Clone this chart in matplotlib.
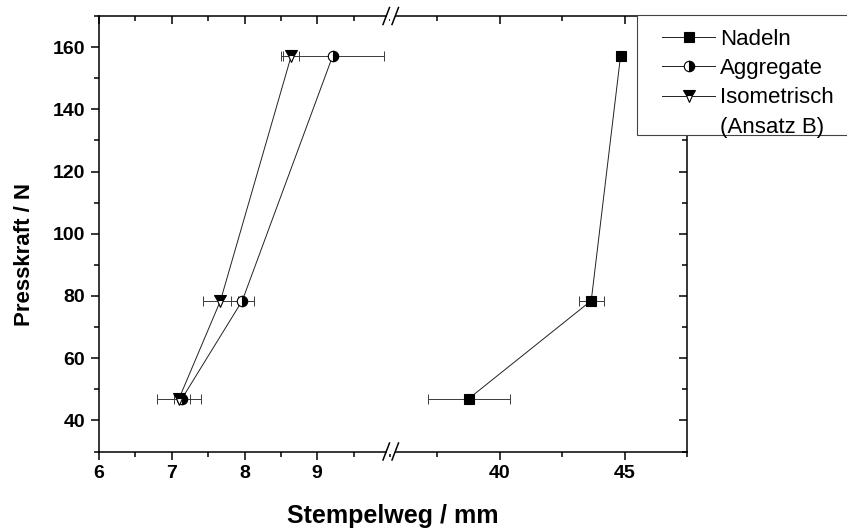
import matplotlib
matplotlib.use("Agg")
import numpy as np
import matplotlib.pyplot as plt
from matplotlib.lines import Line2D
from matplotlib.patches import Rectangle
from matplotlib.ticker import MultipleLocator, FixedLocator

plt.rcParams['font.family'] = ['Liberation Sans', 'DejaVu Sans']

# Measured values: press force (N) vs. punch travel (mm)
presskraft = [47.0, 78.5, 157.0]

nadeln_weg = [38.77, 43.67, 44.84]
nadeln_err = [1.65, 0.50, 0.10]

aggregate_weg = [7.14, 7.97, 9.21]
aggregate_err = [0.115, 0.16, 0.705]

iso_weg = [7.10, 7.67, 8.64]
iso_err = [0.30, 0.24, 0.11]

left_xticks = [6, 7, 8, 9]
right_xticks = [40, 45]
yticks = [40, 60, 80, 100, 120, 140, 160]

W, H = 847, 531
fig = plt.figure(figsize=(W / 100, H / 100), dpi=100)


def fx(px):
    return px / W


def fy(py):
    return 1 - py / H


x0, xb, x1 = 99, 390, 687
ytop, ybot = 16, 451.5
rect_h = (ybot - ytop) / H
axL = fig.add_axes([fx(x0), fy(ybot), fx(xb - x0), rect_h])
axR = fig.add_axes([fx(xb), fy(ybot), fx(x1 - xb), rect_h])

LW = 1.1
MAJ, MIN = 6, 3.5
XLIMS = ((6, 10), (35.62, 47.5))
XMAJ = (left_xticks, right_xticks)
XMIN = (0.5, 2.5)

for ax, lims, majors, mstep in zip((axL, axR), XLIMS, XMAJ, XMIN):
    ax.set_xlim(*lims)
    ax.set_ylim(30, 170)
    for s in ax.spines.values():
        s.set_linewidth(LW)
    ax.xaxis.set_major_locator(FixedLocator(majors))
    ax.xaxis.set_minor_locator(MultipleLocator(mstep))
    ax.yaxis.set_major_locator(FixedLocator(yticks))
    ax.yaxis.set_minor_locator(MultipleLocator(10))
    ax.tick_params(axis='x', which='both', bottom=True, top=False, direction='out', width=LW)
    ax.tick_params(axis='x', which='major', length=MAJ, pad=4, labelsize=14)
    ax.tick_params(axis='x', which='minor', length=MIN)
    # mirrored inward ticks along the top edge
    tick_h = {True: MAJ * 1.39 / (ybot - ytop), False: MIN * 1.39 / (ybot - ytop)}
    minors = np.arange(lims[0] - lims[0] % mstep, lims[1] + 1e-9, mstep)
    for t in minors:
        if t < lims[0] - 1e-9:
            continue
        is_major = any(abs(t - m) < 1e-9 for m in majors)
        ax.plot([t, t], [1, 1 - tick_h[is_major]], transform=ax.get_xaxis_transform(),
                color='black', lw=LW, clip_on=False, solid_capstyle='butt', zorder=4)

axL.spines['right'].set_visible(False)
axR.spines['left'].set_visible(False)

# y axis: outward ticks on the left, inward ticks on the right
axL.tick_params(axis='y', which='both', left=True, right=False, direction='out', width=LW)
axL.tick_params(axis='y', which='major', length=MAJ, pad=4, labelsize=14)
axL.tick_params(axis='y', which='minor', length=MIN)
axR.tick_params(axis='y', which='both', left=False, right=True, labelleft=False,
                labelright=False, direction='in', width=LW)
axR.tick_params(axis='y', which='major', length=MAJ)
axR.tick_params(axis='y', which='minor', length=MIN)

for ax in (axL, axR):
    for lab in ax.get_xticklabels() + ax.get_yticklabels():
        lab.set_fontweight('bold')


def series(ax, x, y, err, **kw):
    ax.errorbar(x, y, xerr=err, fmt='none', ecolor='#3a3a3a', elinewidth=0.7,
                capsize=3.5, capthick=0.7, zorder=2, clip_on=False)
    line, = ax.plot(x, y, color='#222222', lw=0.7, zorder=3, markeredgecolor='black',
                    markeredgewidth=0.8, clip_on=False, **kw)
    return line


h_nad = series(axR, nadeln_weg, presskraft, nadeln_err, marker='s', markersize=7,
               markerfacecolor='black')
h_agg = series(axL, aggregate_weg, presskraft, aggregate_err, marker='o', markersize=7.5,
               fillstyle='right', markerfacecolor='black', markerfacecoloralt='white')
h_iso = series(axL, iso_weg, presskraft, iso_err, marker='v', markersize=8,
               fillstyle='top', markerfacecolor='black', markerfacecoloralt='white')

# axis break marks
for yb in (ytop, ybot):
    fig.add_artist(Rectangle((fx(387), fy(yb + 2.5)), fx(8), 5 / H, transform=fig.transFigure,
                             facecolor='white', edgecolor='none', zorder=10))
    for dx in (0, 9):
        fig.add_artist(Line2D([fx(383 + dx), fx(389.5 + dx)], [fy(yb + 8.5), fy(yb - 8.5)],
                              transform=fig.transFigure, color='black', lw=1.1, zorder=11))

# axis titles
fig.text(fx(25), fy(255), 'Presskraft / N', rotation=90, ha='center', va='center',
         fontsize=16, fontweight='bold')
fig.text(fx(393), fy(516), 'Stempelweg / mm', ha='center', va='center',
         fontsize=18, fontweight='bold')

# legend box running off the right edge
fig.add_artist(Rectangle((fx(637), fy(135)), fx(300), 120 / H, transform=fig.transFigure,
                         facecolor='white', edgecolor='#444444', lw=0.8, zorder=12))
blank = Line2D([], [], linestyle='none', marker='none')
leg = fig.legend([h_nad, h_agg, h_iso, blank],
                 ['Nadeln', 'Aggregate', 'Isometrisch', '(Ansatz B)'],
                 loc='upper left', bbox_to_anchor=(fx(662), fy(29)), frameon=False,
                 borderpad=0, borderaxespad=0, fontsize=16, handlelength=2.4,
                 handletextpad=0.2, labelspacing=0.37, numpoints=1)
leg.set_zorder(13)

fig.savefig('out.png', dpi=100)
